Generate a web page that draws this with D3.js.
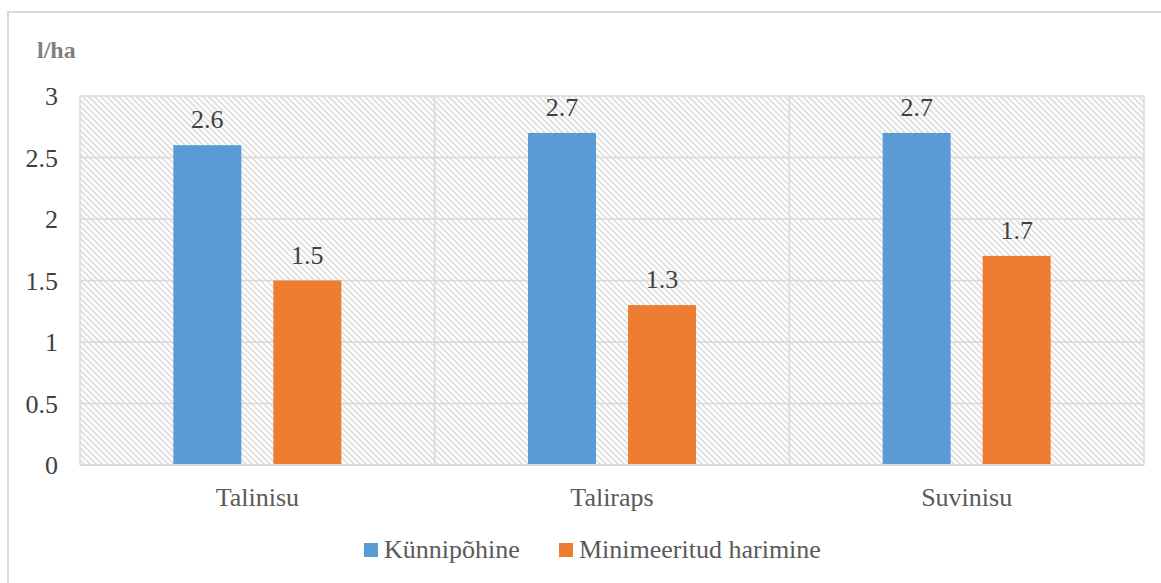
<!DOCTYPE html>
<html>
<head>
<meta charset="utf-8">
<script src="https://cdn.jsdelivr.net/npm/d3@7"></script>
</head>
<body style="margin:0">
<svg id="chart" width="1161" height="583"></svg>
<script>
// Fuel use per hectare by crop and tillage method
const categories = ["Talinisu", "Taliraps", "Suvinisu"];
const seriesNames = ["Künnipõhine", "Minimeeritud harimine"];
const kunnipohine = [2.6, 2.7, 2.7];
const minimeeritud = [1.5, 1.3, 1.7];
const yTicks = [0, 0.5, 1, 1.5, 2, 2.5, 3];
const colors = ["#5b9bd5", "#ed7d31"];

const FONT = "'Liberation Serif'";
const svg = d3.select("#chart");
const W = 1161, H = 583;
const plot = { left: 80, right: 1144, top: 96, bottom: 465 };

function styleText(sel, size, color, weight) {
  sel.style("font-family", FONT).style("font-size", size + "px")
    .style("fill", color).style("font-weight", weight || "normal");
  return sel;
}

// outer chart frame (runs past the right and bottom edges)
svg.append("rect")
  .attr("x", 8).attr("y", 12).attr("width", W + 10).attr("height", H + 10)
  .attr("fill", "#fff").attr("stroke", "#d9d9d9").attr("stroke-width", 2);

const x0 = d3.scaleBand().domain(categories).range([plot.left, plot.right]).padding(0);
const bw = x0.bandwidth();
const x1 = d3.scaleBand().domain(seriesNames)
  .range([bw * 0.2632, bw * 0.7368]).paddingInner(0.32).paddingOuter(0);
const y = d3.scaleLinear().domain([0, 3]).range([plot.bottom, plot.top]);

// diagonal hatch of the plot area: segments of y = x + c cut to the plot box
const hatchStep = 6;
const hatch = [];
for (let c = plot.top - plot.right; c <= plot.bottom - plot.left; c += hatchStep) {
  const xa = Math.max(plot.left, plot.top - c);
  const xb = Math.min(plot.right, plot.bottom - c);
  if (xb > xa) hatch.push({ xa, xb, c });
}
svg.append("g").selectAll("line").data(hatch).join("line")
  .attr("x1", d => d.xa).attr("y1", d => d.xa + d.c)
  .attr("x2", d => d.xb).attr("y2", d => d.xb + d.c)
  .attr("stroke", "#e0e0e0").attr("stroke-width", 1.8);

// horizontal gridlines
svg.append("g").selectAll("line").data(yTicks).join("line")
  .attr("x1", plot.left).attr("x2", plot.right)
  .attr("y1", d => y(d)).attr("y2", d => y(d))
  .attr("stroke", "#d9d9d9").attr("stroke-width", 1.5);

// vertical category separators and plot frame
const vLines = [plot.left, ...categories.slice(1).map(c => x0(c)), plot.right];
svg.append("g").selectAll("line").data(vLines).join("line")
  .attr("x1", d => d).attr("x2", d => d)
  .attr("y1", plot.top).attr("y2", plot.bottom)
  .attr("stroke", "#d9d9d9").attr("stroke-width", 1.5);

// y-axis tick labels
const yAxis = d3.axisLeft(y).tickValues(yTicks).tickSize(0).tickPadding(0)
  .tickFormat(d3.format(""));
const yg = svg.append("g").attr("transform", `translate(58,0)`).call(yAxis)
  .attr("font-family", null).attr("font-size", null);
yg.select(".domain").remove();
styleText(yg.selectAll("text"), 26, "#404040").attr("fill", null).attr("dy", "0.33em");

// unit label
styleText(svg.append("text").attr("x", 37).attr("y", 58), 24, "#7f7f7f", "bold")
  .text("l/ha");

// bars
const rows = categories.map((c, i) => ({ cat: c, vals: [kunnipohine[i], minimeeritud[i]] }));
const groups = svg.append("g").selectAll("g").data(rows).join("g")
  .attr("transform", d => `translate(${x0(d.cat)},0)`);
groups.selectAll("rect").data(d => d.vals.map((v, j) => ({ s: seriesNames[j], v, j })))
  .join("rect")
  .attr("x", d => x1(d.s)).attr("width", x1.bandwidth())
  .attr("y", d => y(d.v)).attr("height", d => y(0) - y(d.v))
  .attr("fill", d => colors[d.j]);
styleText(groups.selectAll("text").data(d => d.vals.map((v, j) => ({ s: seriesNames[j], v, j })))
  .join("text")
  .attr("x", d => x1(d.s) + x1.bandwidth() / 2).attr("y", d => y(d.v) - 17)
  .attr("text-anchor", "middle"), 26, "#404040")
  .text(d => d3.format(".1f")(d.v));

// bottom axis line
svg.append("line").attr("x1", plot.left).attr("x2", plot.right)
  .attr("y1", plot.bottom).attr("y2", plot.bottom)
  .attr("stroke", "#d9d9d9").attr("stroke-width", 2);

// category labels
const xAxis = d3.axisBottom(x0).tickSize(0).tickPadding(0);
const xg = svg.append("g").attr("transform", `translate(0,${plot.bottom + 41})`).call(xAxis)
  .attr("font-family", null).attr("font-size", null);
xg.select(".domain").remove();
styleText(xg.selectAll("text"), 26, "#595959").attr("fill", null).attr("dy", 0);

// legend
const legend = svg.append("g");
const legendItems = [{ name: seriesNames[0], x: 364 }, { name: seriesNames[1], x: 559 }];
legendItems.forEach((it, i) => {
  legend.append("rect").attr("x", it.x).attr("y", 543).attr("width", 14).attr("height", 14)
    .attr("fill", colors[i]);
  styleText(legend.append("text").attr("x", it.x + 20).attr("y", 558), 26, "#595959")
    .text(it.name);
});
</script>
</body>
</html>
